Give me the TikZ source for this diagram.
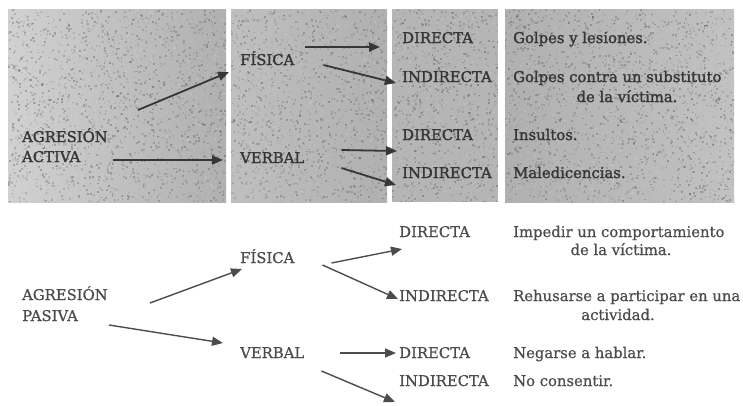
\documentclass[tikz,border=0pt]{standalone}
\usepackage{fontspec}
\setmainfont{DejaVu Serif}
\newfontfamily\slab[FakeBold=1.6]{DejaVu Serif}
\newfontfamily\slablight[FakeBold=0.7]{DejaVu Serif}
\usetikzlibrary{arrows.meta,fit}

\definecolor{ink}{HTML}{363636}
\definecolor{inklight}{HTML}{4C4C4C}

\tikzset{
  lbl/.style={anchor=base west, inner sep=0pt, text=ink,
              font=\slab\fontsize{14.8}{17}\selectfont},
  lblb/.style={lbl, text=inklight, font=\slablight\fontsize{14.8}{17}\selectfont},
  ctr/.style={lbl, anchor=base},
  ctrb/.style={lblb, anchor=base},
  arr/.style={draw=ink, line width=1.8pt,
              -{Triangle[length=11pt,width=9pt]}},
  arrb/.style={arr, draw=inklight, line width=1.4pt},
  panel/.style={fill=black!29},
}

\begin{document}
\begin{tikzpicture}[x=1pt,y=-1pt]
\useasboundingbox (0,0) rectangle (743,405);

% grey panels of the upper table
\shade[left color=black!18, right color=black!31] (8,9) rectangle (226,202);
\shade[left color=black!25, right color=black!31] (231,9) rectangle (387,202);
\fill[panel] (392,9) rectangle (498,202);
\shade[left color=black!31, right color=black!24] (505,9) rectangle (734,202);

% paper grain on the panels
\begin{scope}
  \clip (8,9) rectangle (226,202) (231,9) rectangle (387,202)
        (392,9) rectangle (498,202) (505,9) rectangle (734,202);
  \pgfmathsetseed{11}
  \foreach \i in {1,...,8000}{
    \pgfmathsetmacro\px{8+rnd*727}
    \pgfmathsetmacro\py{9+rnd*193}
    \pgfmathsetmacro\sh{15+rnd*65}
    \fill[black!\sh, opacity=0.3] (\px,\py) rectangle ++(1.8,1.8);
  }
\end{scope}

% ---------- upper table: active aggression ----------
\node[lbl] (ag)  at (22,142) {AGRESIÓN};
\node[lbl] (act) at (22,162) {ACTIVA};
\node[fit=(ag)(act), inner sep=0pt] (actblock) {};

\node[lbl] (fis) at (240,65)  {FÍSICA};
\node[lbl] (ver) at (240,163) {VERBAL};

\node[lbl] (d1) at (402,43)  {DIRECTA};
\node[lbl] (i1) at (402,82)  {INDIRECTA};
\node[lbl] (d2) at (402,140) {DIRECTA};
\node[lbl] (i2) at (402,178) {INDIRECTA};

\node[lbl] (t1)  at (513,43)  {Golpes y lesiones.};
\node[lbl] (t2)  at (513,82)  {Golpes contra un substituto};
\node[ctr] (t2b) at (627,102) {de la víctima.};
\node[lbl] (t3)  at (513,140) {Insultos.};
\node[lbl] (t4)  at (513,178) {Maledicencias.};

\draw[arr] ([shift={(30,-32)}]ag.base east)  -- ([shift={(-11,7)}]fis.base west);
\draw[arr] ([shift={(32,-2)}]act.base east)  -- ([shift={(-17,-3)}]ver.base west);
\draw[arr] ([shift={(10,-18)}]fis.base east) -- ([shift={(-22,4)}]d1.base west);
\draw[arr] ([shift={(29,0)}]fis.base east)   -- ([shift={(-6,1)}]i1.base west);
\draw[arr] ([shift={(37,-13)}]ver.base east) -- ([shift={(-5,11)}]d2.base west);
\draw[arr] ([shift={(37,5)}]ver.base east)   -- ([shift={(-6,7)}]i2.base west);

% ---------- lower table: passive aggression ----------
\node[lblb] (pg)  at (22,300) {AGRESIÓN};
\node[lblb] (pas) at (22,321) {PASIVA};
\node[fit=(pg)(pas), inner sep=0pt] (pasblock) {};

\node[lblb] (fisB) at (240,263) {FÍSICA};
\node[lblb] (verB) at (240,358) {VERBAL};

\node[lblb] (dB1) at (399,237) {DIRECTA};
\node[lblb] (iB1) at (399,301) {INDIRECTA};
\node[lblb] (dB2) at (399,358) {DIRECTA};
\node[lblb] (iB2) at (399,386) {INDIRECTA};

\node[lblb] (u1)  at (513,237) {Impedir un comportamiento};
\node[ctrb] (u1b) at (621,255) {de la víctima.};
\node[lblb] (u2)  at (513,301) {Rehusarse a participar en una};
\node[ctrb] (u2b) at (618,320) {actividad.};
\node[lblb] (u3)  at (513,358) {Negarse a hablar.};
\node[lblb] (u4)  at (513,386) {No consentir.};

\draw[arrb] ([shift={(42,3)}]pg.base east)    -- ([shift={(2,6)}]fisB.base west);
\draw[arrb] ([shift={(31,4)}]pas.base east)   -- ([shift={(-17,-15)}]verB.base west);
\draw[arrb] ([shift={(37,0)}]fisB.base east)  -- ([shift={(3,12)}]dB1.base west);
\draw[arrb] ([shift={(28,2)}]fisB.base east)  -- ([shift={(-1,-2)}]iB1.base west);
\draw[arrb] ([shift={(36,-5)}]verB.base east) -- ([shift={(-3,-5)}]dB2.base west);
\draw[arrb] ([shift={(17,13)}]verB.base east) -- ([shift={(-4,16)}]iB2.base west);
\end{tikzpicture}
\end{document}
